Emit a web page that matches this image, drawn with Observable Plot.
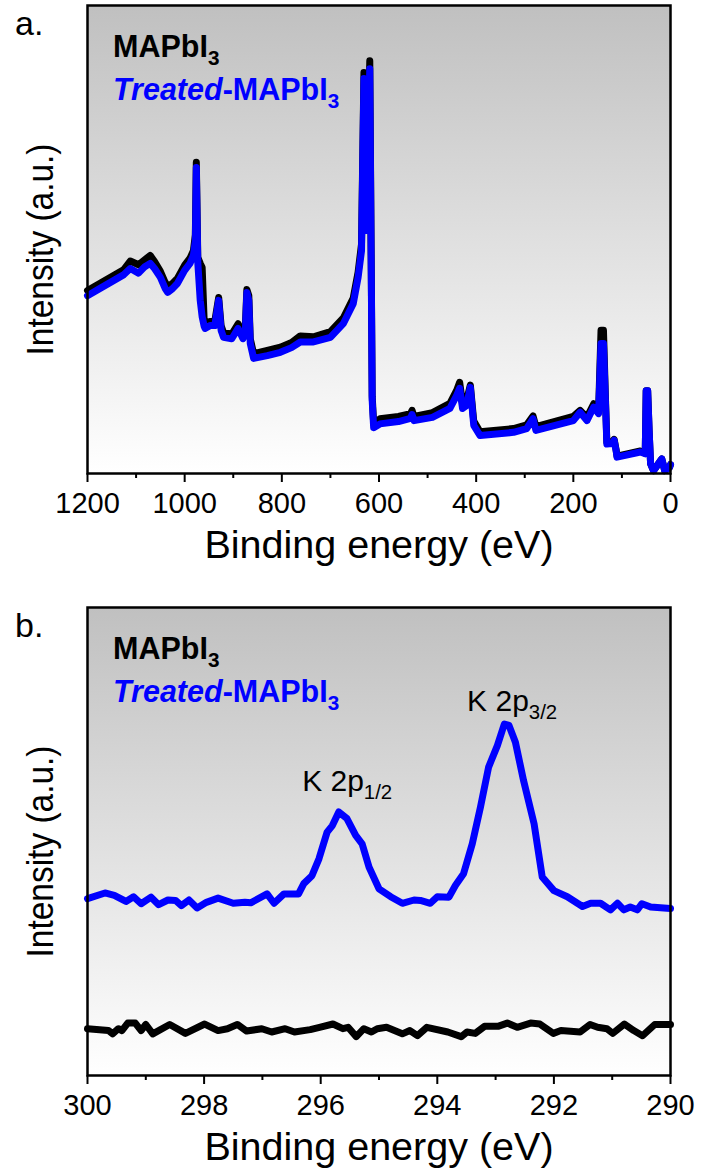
<!DOCTYPE html>
<html>
<head>
<meta charset="utf-8">
<script src="https://cdn.jsdelivr.net/npm/d3@7"></script>
<script src="https://cdn.jsdelivr.net/npm/@observablehq/plot@0.6"></script>
<style>
  html, body { margin: 0; padding: 0; background: #ffffff; }
  #chart { width: 701px; }
  #chart svg { display: block; }
</style>
</head>
<body>
<div id="chart"></div>
<script>
// ---------- Panel a: XPS survey ----------
const surveyEnergy = [1200,1175,1150,1125,1112,1095,1082,1071,1062,1050,1040,1035,1025,1015,1000,989,982,978,976,973,968,964,960,958,948,938,930,925,920,903,890,880,875,872,868,865,858,830,803,780,762,735,700,673,653,643,636,631,626,619,614,611,598,560,535,532,528,490,454,440,434,428,420,412,405,392,323,296,283,277,200,186,172,158,148,143,138,134,131,120,116,112,110,62,52,50,47,44,41,35,20,18,14,12,2,0];
const surveyPristine = [39.1,40.6,42.1,43.6,45.4,44.6,45.7,46.6,45.3,43.2,40.8,39.9,40.6,41.7,44.5,46.0,47.6,51.0,66.5,46.2,44.9,44.0,33.0,32.1,32.5,32.5,37.6,31.6,30.1,29.8,32.0,29.8,31.6,39.3,38.0,28.8,25.6,26.3,27.0,28.0,29.4,29.2,30.3,33.3,37.5,43.0,49.0,85.7,53.0,88.2,16.5,10.7,11.7,12.2,12.8,13.5,12.2,13.0,15.0,17.8,19.5,15.0,15.5,18.9,11.2,8.9,9.6,10.4,12.3,10.0,12.2,13.5,12.0,14.9,13.5,30.6,30.6,16.5,6.7,6.8,7.3,5.1,3.7,4.8,4.3,17.7,17.7,9.2,2.1,0.6,2.8,3.1,1.5,0.6,1.3,1.9];
const surveyTreated = [38.0,39.5,41.0,42.5,43.8,42.8,44.2,44.9,43.8,41.9,39.5,38.7,39.5,40.6,43.4,44.9,46.6,49.8,65.4,45.1,37.0,33.5,31.5,31.0,31.6,31.6,37.0,30.6,29.1,28.8,31.0,28.8,30.6,38.7,37.0,27.8,24.6,25.2,25.9,26.9,28.1,28.1,29.1,32.1,36.3,41.9,47.6,84.4,51.9,86.5,15.6,9.8,10.6,11.1,11.8,12.6,11.3,12.0,13.9,16.7,18.2,13.9,14.5,18.4,10.3,8.1,8.8,9.6,11.7,9.2,11.3,13.1,11.3,14.2,12.8,27.8,27.8,15.6,6.3,6.4,7.1,4.9,3.5,4.6,4.2,17.7,17.7,9.2,2.1,0.6,2.8,3.1,1.5,0.6,1.3,1.9];
const surveyMajorTicks = [1200,1000,800,600,400,200,0];
const surveyMinorTicks = [1100,900,700,500,300,100];

// ---------- Panel b: K 2p region ----------
const kEnergyTreated = [300.00,299.70,299.54,299.34,299.21,299.08,298.91,298.78,298.62,298.49,298.39,298.26,298.12,297.96,297.76,297.50,297.30,297.20,296.92,296.80,296.63,296.38,296.29,296.15,296.03,295.89,295.80,295.69,295.55,295.40,295.29,295.17,295.00,294.80,294.60,294.40,294.29,294.12,294.00,293.80,293.69,293.55,293.40,293.26,293.12,292.97,292.85,292.77,292.66,292.52,292.34,292.20,292.00,291.77,291.51,291.37,291.20,291.03,290.91,290.80,290.69,290.57,290.49,290.34,290.00];
const kTreated = [37.8,39.0,38.5,37.2,38.2,36.7,38.1,36.5,37.5,37.4,36.3,37.5,35.8,37.0,37.9,36.8,37.0,36.9,38.8,36.8,38.8,38.8,41.0,42.7,46.3,52.0,53.4,56.3,54.9,51.3,49.5,44.5,39.9,38.2,36.8,37.5,37.4,36.8,38.2,38.1,40.6,43.1,49.5,57.3,65.9,70.5,75.1,74.8,71.2,63.0,53.8,42.4,39.5,38.2,36.1,36.8,36.8,35.4,36.8,35.4,36.0,35.4,36.7,36.0,35.7];
const kEnergyPristine = [300.00,299.64,299.57,299.47,299.41,299.31,299.18,299.08,299.00,298.88,298.59,298.32,297.99,297.76,297.60,297.43,297.27,297.01,296.84,296.61,296.45,296.18,296.02,295.79,295.62,295.53,295.39,295.26,295.13,295.03,294.87,294.60,294.47,294.34,294.18,293.82,293.59,293.49,293.35,293.19,292.96,292.80,292.63,292.40,292.24,292.01,291.88,291.55,291.38,291.25,291.09,290.99,290.79,290.63,290.48,290.27,290.00];
const kPristine = [10.0,9.6,8.9,10.0,9.6,11.2,11.2,9.6,10.9,8.9,10.9,9.0,11.0,9.6,10.0,10.9,9.5,10.0,9.3,10.0,9.3,9.8,10.3,11.0,10.0,10.3,8.3,10.0,9.3,10.0,10.3,8.9,9.6,8.5,10.3,9.3,8.3,9.3,9.0,10.5,10.5,11.2,10.3,11.2,11.0,9.0,9.6,9.3,10.9,10.3,10.0,9.0,11.0,9.6,8.5,10.9,10.9];
const kMajorTicks = [300,298,296,294,292,290];
const kMinorTicks = [299,297,295,293,291];

// peak labels (anchor = start of text, in data units)
const peakLabelMain = ["K 2p", "K 2p"];
const peakLabelSub = ["1/2", "3/2"];
const peakLabelEnergy = [296.31, 293.48];
const peakLabelIntensity = [60.7, 77.8];

const seriesNames = ["MAPbI", "Treated"];
const FONT = "'Liberation Sans', Arial, Helvetica, sans-serif";

function toRows(xs, ys) { return xs.map((e, i) => ({e, v: ys[i]})); }

function addRich(svg, x, y, parts, size, fill, weight) {
  const t = d3.select(svg).append("text")
    .attr("x", x).attr("y", y)
    .attr("text-anchor", "start")
    .attr("font-family", FONT)
    .attr("font-size", size)
    .attr("font-weight", weight || "normal")
    .attr("fill", fill || "#000");
  for (const p of parts) {
    const ts = t.append("tspan").text(p.t);
    if (p.italic) ts.attr("font-style", "italic");
    if (p.sub) ts.attr("font-size", size * 0.68).attr("dy", size * 0.27);
  }
  return t;
}

function makePanel(cfg) {
  const plot = Plot.plot({
    width: 701,
    height: cfg.height,
    marginLeft: 87,
    marginRight: 31,
    marginTop: cfg.marginTop,
    marginBottom: cfg.marginBottom,
    style: {fontFamily: FONT, fontSize: "29px", color: "#000", background: "transparent", overflow: "visible"},
    x: {domain: cfg.xDomain},
    y: {domain: [0, 100], axis: null},
    marks: [
      Plot.frame({fill: `url(#${cfg.gradId})`, stroke: "none"}),
      Plot.line(cfg.pristine, {x: "e", y: "v", stroke: "#000000", strokeWidth: 7, strokeLinejoin: "round", strokeLinecap: "round"}),
      Plot.line(cfg.treated, {x: "e", y: "v", stroke: "#0000ff", strokeWidth: 7, strokeLinejoin: "round", strokeLinecap: "round"}),
      Plot.frame({stroke: "#000", strokeWidth: 2.5}),
      Plot.axisX(cfg.minorTicks, {tickSize: 5, strokeWidth: 2, fill: "none", label: null}),
      Plot.axisX(cfg.majorTicks, {tickSize: 9, tickPadding: 10, strokeWidth: 2, label: null, tickFormat: d => String(d)}),
      Plot.text(["Binding energy (eV)"], {text: d => d, frameAnchor: "bottom", dy: 84, lineAnchor: "bottom", textAnchor: "middle", fontSize: 39.5}),
      Plot.text(["Intensity (a.u.)"], {text: d => d, frameAnchor: "left", dx: -35, dy: 10, rotate: -90, lineAnchor: "bottom", textAnchor: "middle", fontSize: 37})
    ]
  });

  // slightly condensed y-axis title, as in the original figure
  d3.select(plot).selectAll("text")
    .filter(function () { return this.textContent === "Intensity (a.u.)"; })
    .attr("textLength", 212)
    .attr("lengthAdjust", "spacingAndGlyphs");

  // gradient background definition
  const ns = "http://www.w3.org/2000/svg";
  const defs = document.createElementNS(ns, "defs");
  defs.innerHTML = `<linearGradient id="${cfg.gradId}" x1="0" y1="0" x2="0" y2="1">
      <stop offset="0" stop-color="#c0c0c0"/>
      <stop offset="1" stop-color="#ffffff"/>
    </linearGradient>`;
  plot.insertBefore(defs, plot.firstChild);

  const top = cfg.marginTop;
  // panel letter
  addRich(plot, 15, top + 30, [{t: cfg.letter}], 34, "#000", "normal");
  // legend
  addRich(plot, 113, top + 52, [{t: seriesNames[0]}, {t: "3", sub: true}], 30.5, "#000", "bold");
  addRich(plot, 113, top + 95, [{t: seriesNames[1], italic: true}, {t: "-MAPbI"}, {t: "3", sub: true}], 30.5, "#0000ff", "bold");

  if (cfg.peaks) {
    const sx = plot.scale("x"), sy = plot.scale("y");
    for (let i = 0; i < peakLabelMain.length; i++) {
      addRich(plot, sx.apply(peakLabelEnergy[i]), sy.apply(peakLabelIntensity[i]),
        [{t: peakLabelMain[i]}, {t: peakLabelSub[i], sub: true}], 30, "#000", "normal");
    }
  }
  return plot;
}

const chart = document.getElementById("chart");
chart.appendChild(makePanel({
  height: 590, marginTop: 5, marginBottom: 117,
  xDomain: [1200, 0], gradId: "bgA", letter: "a.",
  pristine: toRows(surveyEnergy, surveyPristine),
  treated: toRows(surveyEnergy, surveyTreated),
  majorTicks: surveyMajorTicks, minorTicks: surveyMinorTicks, peaks: false
}));
chart.appendChild(makePanel({
  height: 584, marginTop: 17, marginBottom: 99,
  xDomain: [300, 290], gradId: "bgB", letter: "b.",
  pristine: toRows(kEnergyPristine, kPristine),
  treated: toRows(kEnergyTreated, kTreated),
  majorTicks: kMajorTicks, minorTicks: kMinorTicks, peaks: true
}));
</script>
</body>
</html>
